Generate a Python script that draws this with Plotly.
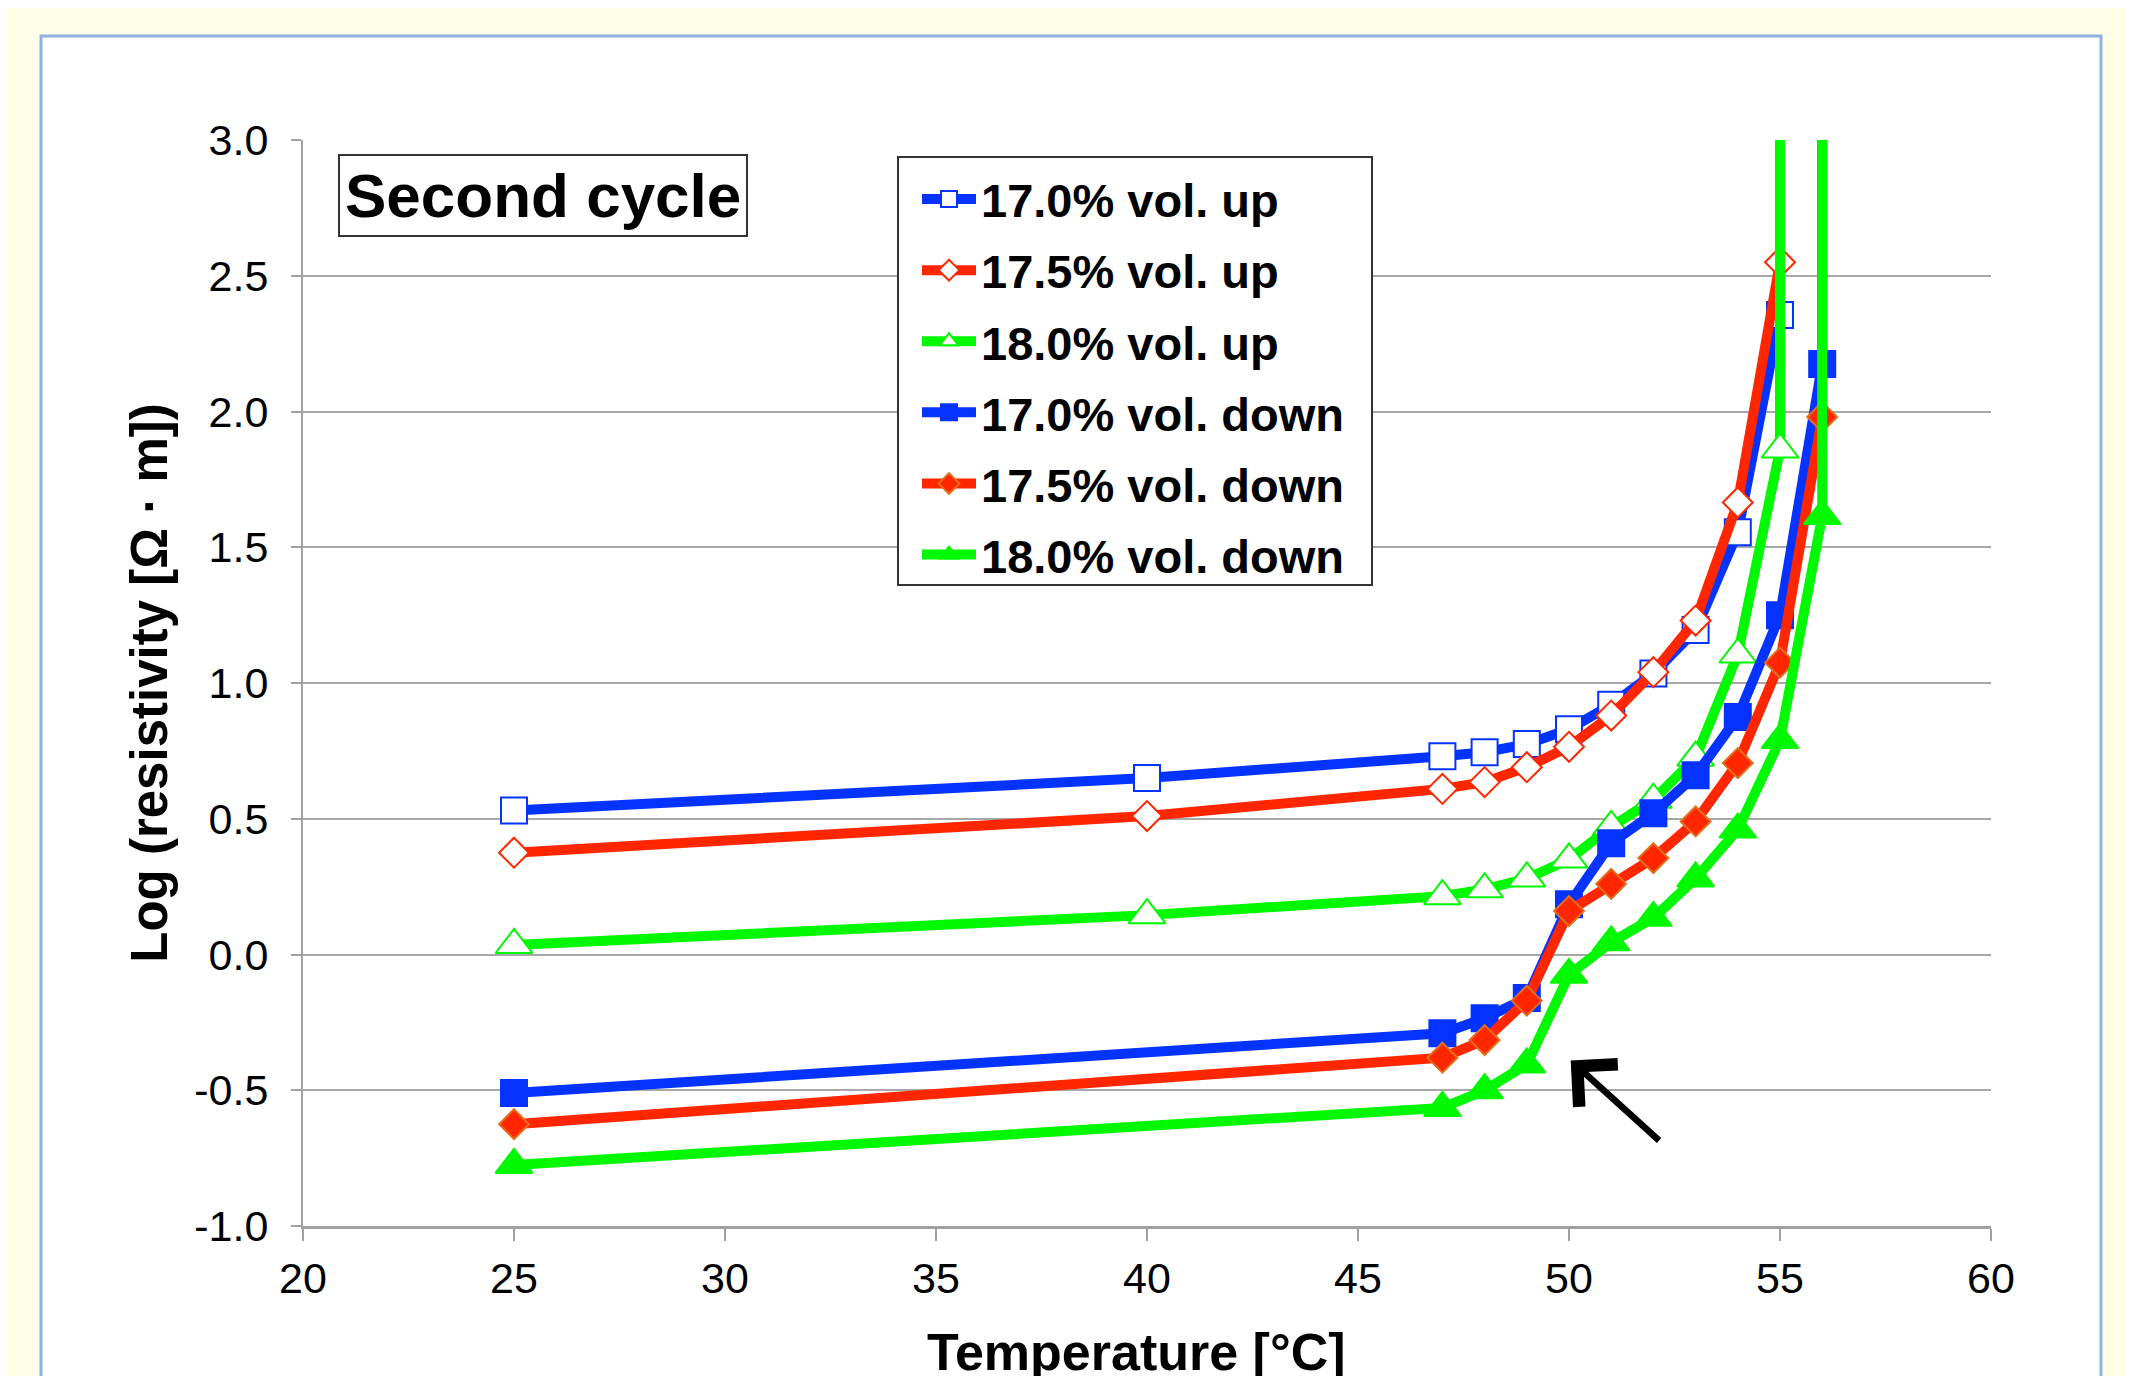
import plotly.graph_objects as go

# ---------------- data ----------------
temp_up = [25, 40, 47, 48, 49, 50, 51, 52, 53, 54, 55, 55]
temp_down = [25, 47, 48, 49, 50, 51, 52, 53, 54, 55, 56, 56]

up_170 = [0.53, 0.65, 0.73, 0.745, 0.775, 0.83, 0.92, 1.035, 1.195, 1.555, 2.355, 5.0]
up_175 = [0.375, 0.51, 0.61, 0.635, 0.69, 0.765, 0.88, 1.04, 1.23, 1.665, 2.55, 5.0]
up_180 = [0.035, 0.145, 0.215, 0.24, 0.28, 0.35, 0.47, 0.57, 0.725, 1.105, 1.86, 5.0]

down_170 = [-0.51, -0.29, -0.235, -0.16, 0.185, 0.41, 0.52, 0.66, 0.875, 1.25, 2.175, 5.0]
down_175 = [-0.625, -0.38, -0.315, -0.17, 0.16, 0.26, 0.355, 0.49, 0.705, 1.075, 1.98, 5.0]
down_180 = [-0.775, -0.565, -0.5, -0.405, -0.075, 0.045, 0.135, 0.28, 0.46, 0.79, 1.615, 5.0]

series_names = ["17.0% vol. up", "17.5% vol. up", "18.0% vol. up",
                "17.0% vol. down", "17.5% vol. down", "18.0% vol. down"]

x_tick_vals = [20, 25, 30, 35, 40, 45, 50, 55, 60]
x_tick_text = ["20", "25", "30", "35", "40", "45", "50", "55", "60"]
y_tick_vals = [-1.0, -0.5, 0.0, 0.5, 1.0, 1.5, 2.0, 2.5, 3.0]
y_tick_text = ["-1.0", "-0.5", "0.0", "0.5", "1.0", "1.5", "2.0", "2.5", "3.0"]

x_title = "Temperature [°C]"
y_title = "Log (resistivity [Ω · m])"
panel_label = "Second cycle"

# arrow annotation (tip and tail, data coordinates)
arrow_tip = (50.04, -0.39)
arrow_tail = (52.17, -0.69)

# ---------------- styling ----------------
BLUE = "#0433FF"
RED = "#FF2600"
GREEN = "#00F900"
FONT = "Arial, 'Liberation Sans', Helvetica, sans-serif"

styles = [
    dict(color=BLUE, symbol="square", fill="white", edge=BLUE, size=26),
    dict(color=RED, symbol="diamond", fill="white", edge=RED, size=23),
    dict(color=GREEN, symbol="triangle-up", fill="white", edge=GREEN, size=32),
    dict(color=BLUE, symbol="square", fill=BLUE, edge=BLUE, size=26),
    dict(color=RED, symbol="diamond", fill=RED, edge="#E0701A", size=23),
    dict(color=GREEN, symbol="triangle-up", fill=GREEN, edge=GREEN, size=32),
]
xs = [temp_up, temp_up, temp_up, temp_down, temp_down, temp_down]
ys = [up_170, up_175, up_180, down_170, down_175, down_180]

fig = go.Figure()
for i, (name, st) in enumerate(zip(series_names, styles)):
    fig.add_trace(go.Scatter(
        x=xs[i], y=ys[i], name=name, mode="lines+markers",
        legendgroup=f"g{i}",
        line=dict(color=st["color"], width=10),
        marker=dict(symbol=st["symbol"], size=st["size"], color=st["fill"],
                    line=dict(color=st["edge"], width=2)),
    ))

# page has an 8px body margin; the figure is placed at (8, 8)
OFF = 8
W, H = 2133 - OFF, 1376 - OFF
# plot area in page pixels: x 303..1991, y 140..1226
L, T = 303 - OFF, 140 - OFF
pw, ph = 1991 - 303, 1226 - 140
R, B = W - L - pw, H - T - ph


def px_x(p):
    return (p - OFF - L) / pw


def px_y(p):
    return (T + ph - (p - OFF)) / ph


fig.update_layout(
    width=W, height=H,
    margin=dict(l=L, r=R, t=T, b=B, autoexpand=False),
    paper_bgcolor="#FFFEE6",
    plot_bgcolor="white",
    font=dict(family=FONT, color="black"),
    showlegend=True,
    legend=dict(
        x=px_x(917), y=px_y(162), xanchor="left", yanchor="top",
        bgcolor="rgba(0,0,0,0)", borderwidth=0,
        font=dict(size=47, family=FONT, color="black", weight="bold"),
        itemwidth=54, tracegroupgap=7, traceorder="grouped",
    ),
    xaxis=dict(
        range=[20, 60], tickvals=x_tick_vals, ticktext=x_tick_text,
        showgrid=False, zeroline=False,
        showline=True, linecolor="#A0A0A0", linewidth=3,
        ticks="outside", ticklen=12, tickwidth=2, tickcolor="#A0A0A0",
        tickfont=dict(size=43, family=FONT, color="black"),
    ),
    yaxis=dict(
        range=[-1, 3], tickvals=y_tick_vals, ticktext=y_tick_text,
        showgrid=True, gridcolor="#A8A8A8", gridwidth=2, zeroline=False,
        showline=True, linecolor="#A0A0A0", linewidth=2,
        ticks="outside", ticklen=10, tickwidth=2, tickcolor="#A0A0A0",
        ticklabelstandoff=14,
        tickfont=dict(size=43, family=FONT, color="black"),
        title=dict(text=f"<b>{y_title}</b>", font=dict(size=51, family=FONT, color="black"),
                   standoff=10),
    ),
    shapes=[
        dict(
            type="rect", xref="paper", yref="paper", layer="below",
            x0=px_x(41), x1=px_x(2101), y0=px_y(1420), y1=px_y(36),
            fillcolor="white", line=dict(color="#8DB3E2", width=3),
        ),
        dict(  # legend frame
            type="rect", xref="paper", yref="paper", layer="above",
            x0=px_x(898), x1=px_x(1372), y0=px_y(585), y1=px_y(157),
            fillcolor="white", line=dict(color="#333333", width=2),
        ),
    ],
    annotations=[
        dict(  # x-axis title
            text=f"<b>{x_title}</b>", xref="paper", yref="paper",
            x=px_x(1136), y=px_y(1352), xanchor="center", yanchor="middle",
            showarrow=False, font=dict(size=52, family=FONT, color="black"),
        ),
        dict(
            text=f"<b>{panel_label}</b>", xref="paper", yref="paper",
            x=px_x(338), y=px_y(154), xanchor="left", yanchor="top",
            showarrow=False, font=dict(size=62, family=FONT, color="black"),
            bgcolor="white", bordercolor="#333333", borderwidth=2, borderpad=5,
        ),
        dict(
            text="", xref="x", yref="y", axref="x", ayref="y",
            x=arrow_tip[0], y=arrow_tip[1], ax=arrow_tail[0], ay=arrow_tail[1],
            showarrow=True, arrowhead=4, arrowsize=1.7, arrowwidth=6.5, arrowcolor="black",
        ),
    ],
)

fig.write_html("out.html")
